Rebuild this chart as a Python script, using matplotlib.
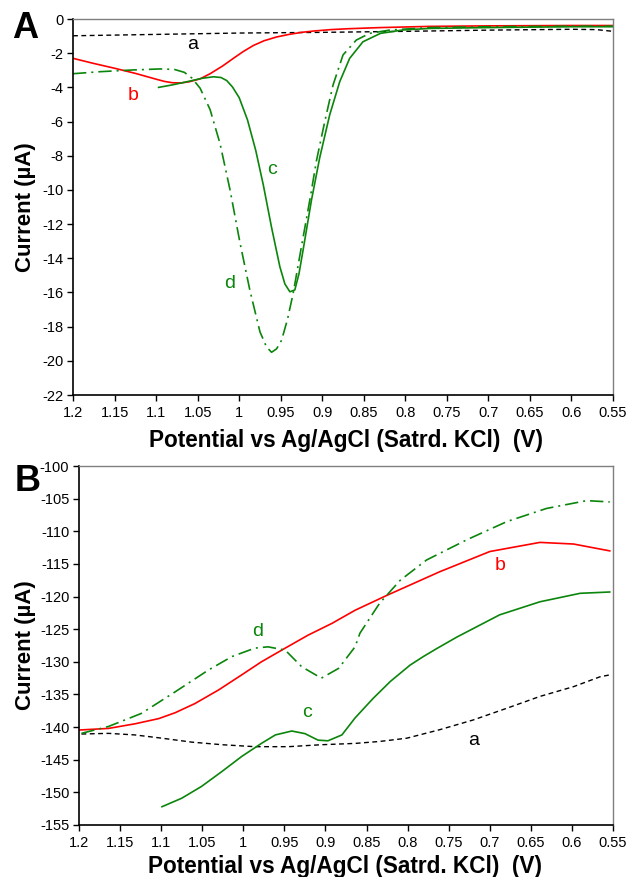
import numpy as np
import matplotlib

matplotlib.use("Agg")
import matplotlib.pyplot as plt
from matplotlib.ticker import FuncFormatter, MultipleLocator

plt.rcParams["font.family"] = ["Liberation Sans", "DejaVu Sans"]
plt.rcParams["axes.unicode_minus"] = False

# ---- panel A data (potential V, current uA) ----
a_a_v = [1.2, 1.1, 1.0, 0.9, 0.8, 0.7, 0.6, 0.57, 0.55]
a_a_i = [-0.98, -0.9, -0.82, -0.78, -0.72, -0.65, -0.6, -0.62, -0.72]

a_b_v = [1.2, 1.175, 1.15, 1.125, 1.1, 1.09, 1.08, 1.07, 1.06, 1.047, 1.035, 1.02,
         1.007, 0.995, 0.983, 0.97, 0.955, 0.94, 0.925, 0.91, 0.89, 0.87, 0.83,
         0.77, 0.7, 0.6, 0.55]
a_b_i = [-2.3, -2.6, -2.88, -3.18, -3.52, -3.65, -3.73, -3.74, -3.67, -3.5, -3.2,
         -2.75, -2.3, -1.9, -1.55, -1.27, -1.05, -0.9, -0.78, -0.7, -0.62, -0.57,
         -0.5, -0.43, -0.4, -0.38, -0.38]

a_c_v = [1.097, 1.08, 1.063, 1.045, 1.031, 1.022, 1.015, 1.008, 1.0, 0.99, 0.98,
         0.971, 0.961, 0.951, 0.945, 0.939, 0.933, 0.928, 0.923, 0.913, 0.903, 0.891,
         0.879, 0.867, 0.851, 0.83, 0.803, 0.77, 0.7, 0.6, 0.55]
a_c_i = [-4.0, -3.85, -3.67, -3.47, -3.38, -3.42, -3.6, -3.98, -4.6, -5.9, -7.7,
         -9.7, -12.2, -14.5, -15.5, -15.96, -15.85, -14.9, -13.5, -10.6, -8.1, -5.6,
         -3.67, -2.3, -1.33, -0.84, -0.64, -0.55, -0.5, -0.45, -0.45]

a_d_v = [1.2, 1.167, 1.128, 1.095, 1.078, 1.066, 1.057, 1.047, 1.035, 1.023, 1.011,
         0.999, 0.987, 0.975, 0.967, 0.961, 0.955, 0.949, 0.942, 0.935, 0.925, 0.915,
         0.907, 0.897, 0.887, 0.875, 0.859, 0.843, 0.818, 0.77, 0.7, 0.6, 0.55]
a_d_i = [-3.2, -3.08, -2.98, -2.92, -2.95, -3.12, -3.45, -4.05, -5.3, -7.3, -10.0,
         -13.1, -15.9, -18.3, -19.2, -19.5, -19.3, -18.8, -17.6, -16.05, -13.3, -10.6,
         -8.3, -6.0, -3.86, -2.1, -1.23, -0.84, -0.64, -0.5, -0.45, -0.42, -0.42]

# ---- panel B data ----
b_a_v = [1.197, 1.164, 1.132, 1.099, 1.063, 1.026, 0.986, 0.945, 0.905, 0.864, 0.834,
         0.801, 0.761, 0.72, 0.679, 0.639, 0.598, 0.566, 0.554]
b_a_i = [-141.06, -140.96, -141.2, -141.7, -142.3, -142.7, -143.0, -143.0, -142.7,
         -142.5, -142.2, -141.7, -140.4, -138.9, -137.1, -135.3, -133.8, -132.3, -132.0]

b_b_v = [1.2, 1.164, 1.132, 1.103, 1.083, 1.059, 1.03, 1.002, 0.978, 0.949, 0.921,
         0.892, 0.864, 0.825, 0.761, 0.7, 0.639, 0.598, 0.554]
b_b_i = [-140.45, -140.2, -139.5, -138.7, -137.8, -136.4, -134.3, -132.0, -130.0,
         -127.9, -125.9, -124.1, -122.1, -119.8, -116.2, -113.1, -111.7, -111.95, -113.0]

b_c_v = [1.099, 1.075, 1.051, 1.026, 1.002, 0.978, 0.961, 0.941, 0.925, 0.909, 0.897,
         0.88, 0.864, 0.842, 0.821, 0.797, 0.781, 0.765, 0.74, 0.688, 0.639, 0.59, 0.554]
b_c_i = [-152.2, -150.9, -149.1, -146.8, -144.5, -142.5, -141.2, -140.6, -141.0,
         -142.0, -142.1, -141.2, -138.6, -135.6, -133.0, -130.5, -129.2, -128.0, -126.2,
         -122.8, -120.8, -119.5, -119.3]

b_d_v = [1.197, 1.164, 1.124, 1.083, 1.043, 1.014, 0.986, 0.97, 0.949, 0.929, 0.905,
         0.884, 0.864, 0.858, 0.834, 0.809, 0.777, 0.728, 0.679, 0.631, 0.582, 0.554]
b_d_i = [-140.96, -139.9, -137.9, -134.6, -131.3, -129.2, -127.9, -127.7, -128.2,
         -130.75, -132.5, -131.0, -127.7, -125.6, -121.0, -117.5, -114.4, -111.3,
         -108.5, -106.5, -105.3, -105.5]

RED = "#ff0000"
GREEN = "#0b850b"
DASH = (0, (3.5, 2.5))
DASHDOT = (0, (8, 3, 1.2, 3))


def style_axes(ax, ylim, ystep):
    ax.set_xlim(1.2, 0.55)
    ax.set_ylim(*ylim)
    ax.xaxis.set_major_locator(MultipleLocator(0.05))
    ax.yaxis.set_major_locator(MultipleLocator(ystep))
    ax.xaxis.set_major_formatter(FuncFormatter(lambda v, p: f"{v:.2f}".rstrip("0").rstrip(".")))
    ax.yaxis.set_major_formatter(FuncFormatter(lambda v, p: f"{v:g}"))
    ax.tick_params(direction="out", length=4, width=1, labelsize=10.5, pad=3)
    ax.tick_params(axis="x", pad=4)
    for s in ("top", "right"):
        ax.spines[s].set_color("#7f7f7f")
        ax.spines[s].set_linewidth(1.0)
    for s in ("left", "bottom"):
        ax.spines[s].set_color("black")
        ax.spines[s].set_linewidth(1.2)
    ax.set_ylabel("Current (µA)", fontsize=16, fontweight="bold")
    ax.set_xlabel("Potential vs Ag/AgCl (Satrd. KCl)  (V)", fontsize=16.3,
                  fontweight="bold")


fig = plt.figure(figsize=(6.29, 8.77), dpi=100)

# panel A
ax1 = fig.add_axes([0.1161, 0.5496, 0.8585, 0.4287])
ax1.plot(a_a_v, a_a_i, color="black", lw=1.0, linestyle=DASH)
ax1.plot(a_b_v, a_b_i, color=RED, lw=1.2)
ax1.plot(a_c_v, a_c_i, color=GREEN, lw=1.2)
ax1.plot(a_d_v, a_d_i, color=GREEN, lw=1.2, linestyle=DASHDOT)
style_axes(ax1, (-22, 0), 2)
ax1.yaxis.set_label_coords(-0.069, 0.5)
ax1.xaxis.set_label_coords(0.506, -0.09)
ax1.text(1.056, -1.5, "a", color="black", fontsize=14, ha="center", va="center")
ax1.text(1.128, -4.5, "b", color=RED, fontsize=14, ha="center", va="center")
ax1.text(0.960, -8.8, "c", color=GREEN, fontsize=14, ha="center", va="center")
ax1.text(1.011, -15.5, "d", color=GREEN, fontsize=14, ha="center", va="center")

# panel B
ax2 = fig.add_axes([0.1256, 0.0593, 0.849, 0.4093])
ax2.plot(b_a_v, b_a_i, color="black", lw=1.0, linestyle=DASH)
ax2.plot(b_b_v, b_b_i, color=RED, lw=1.2)
ax2.plot(b_c_v, b_c_i, color=GREEN, lw=1.2)
ax2.plot(b_d_v, b_d_i, color=GREEN, lw=1.2, linestyle=DASHDOT)
style_axes(ax2, (-155, -100), 5)
ax2.yaxis.set_label_coords(-0.081, 0.5)
ax2.xaxis.set_label_coords(0.498, -0.083)
ax2.text(0.720, -142.0, "a", color="black", fontsize=14, ha="center", va="center")
ax2.text(0.687, -115.3, "b", color=RED, fontsize=14, ha="center", va="center")
ax2.text(0.922, -137.8, "c", color=GREEN, fontsize=14, ha="center", va="center")
ax2.text(0.982, -125.4, "d", color=GREEN, fontsize=14, ha="center", va="center")

fig.text(0.040, 0.968, "A", fontsize=26, fontweight="bold", ha="center", va="center")
fig.text(0.0445, 0.4515, "B", fontsize=26, fontweight="bold", ha="center", va="center")

fig.savefig("out.png", dpi=100)
